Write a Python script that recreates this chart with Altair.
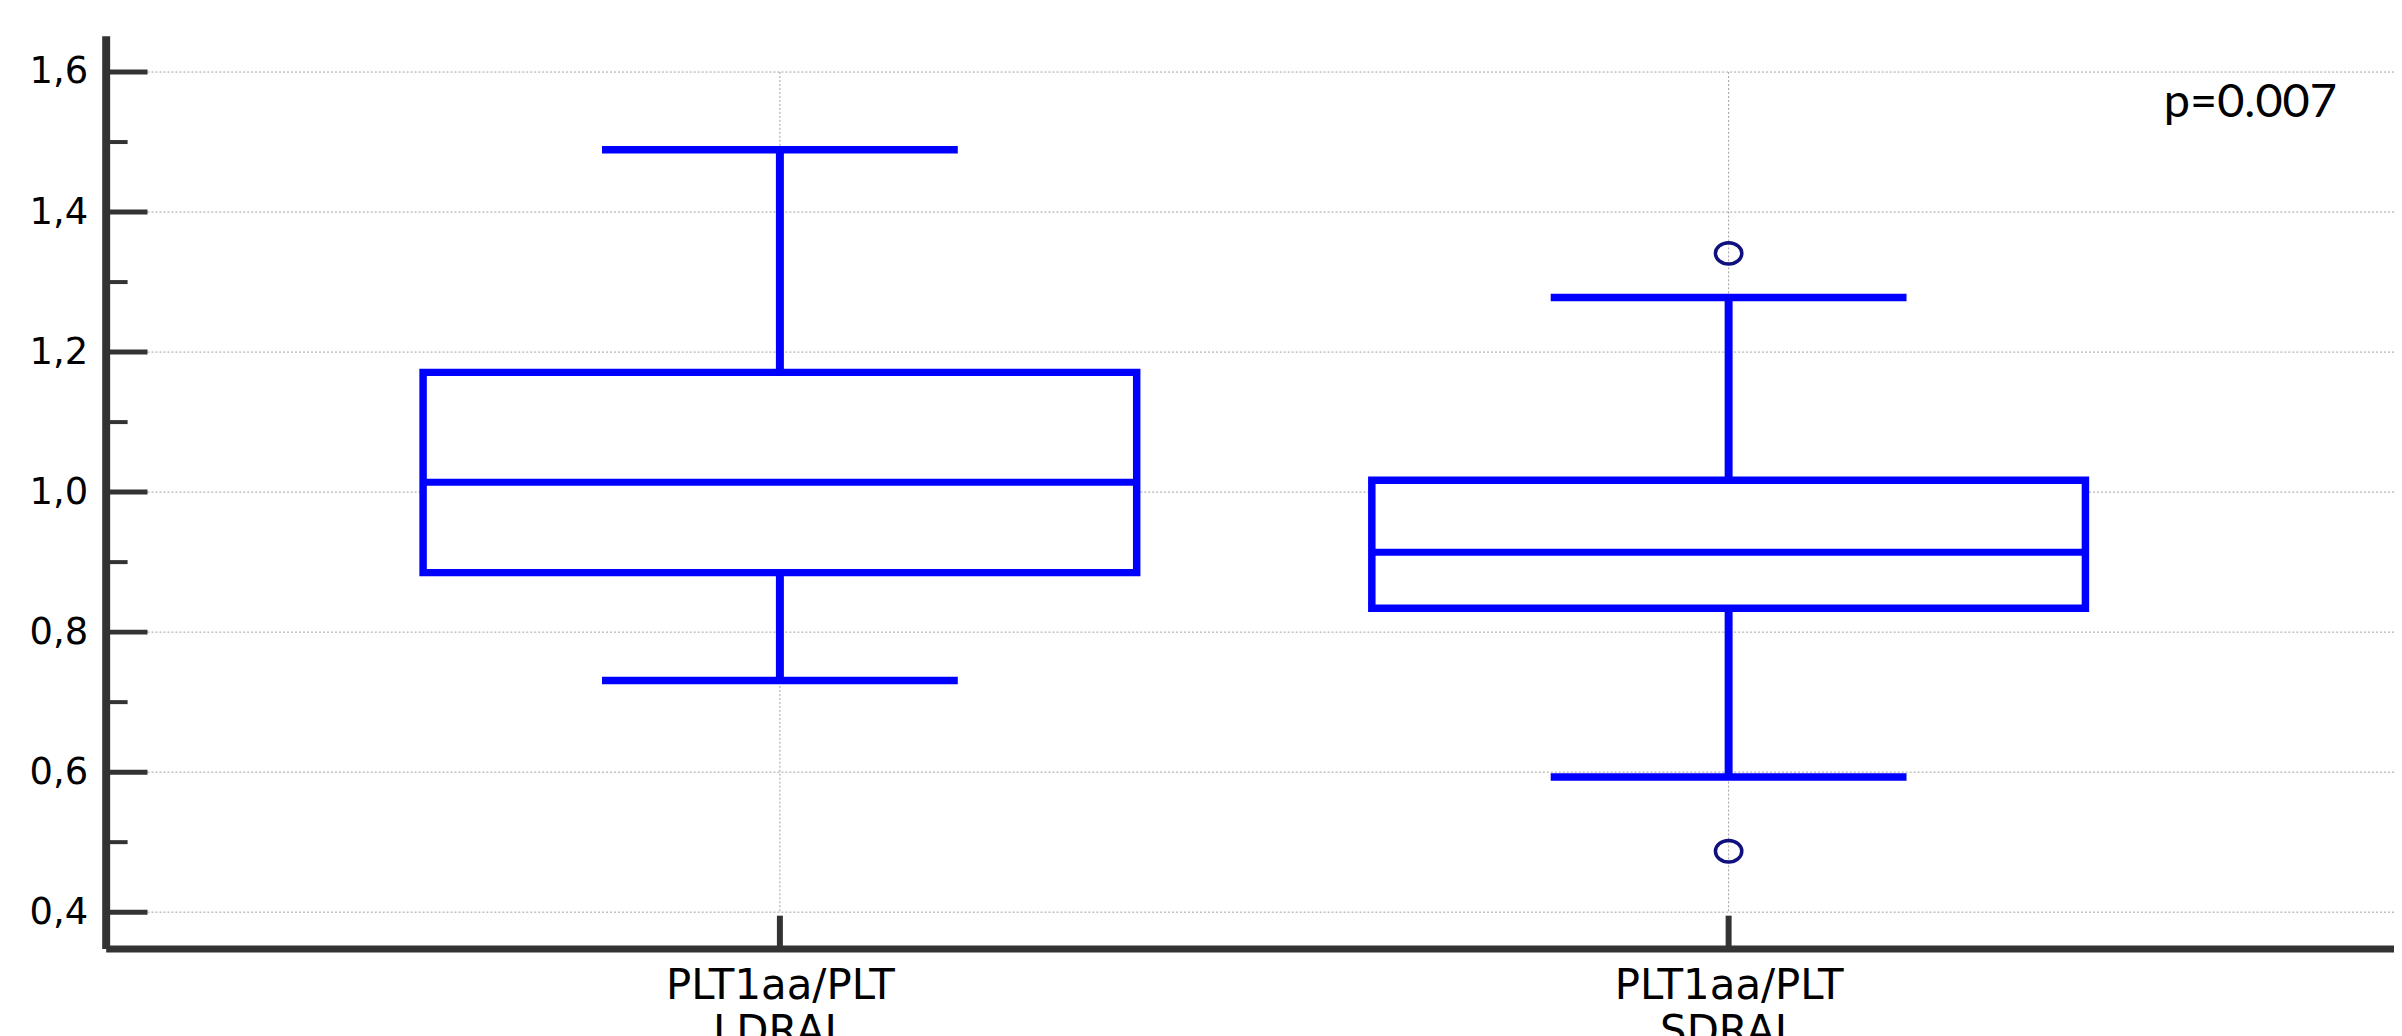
import altair as alt
import pandas as pd

# ---- data ----
categories = ["PLT1aa/PLT LDRAL", "PLT1aa/PLT SDRAL"]
whisker_low = [0.731, 0.593]
q1 = [0.885, 0.834]
median = [1.014, 0.914]
q3 = [1.171, 1.017]
whisker_high = [1.489, 1.278]
outlier_group = ["PLT1aa/PLT SDRAL", "PLT1aa/PLT SDRAL"]
outlier_value = [1.341, 0.487]
y_major = [0.4, 0.6, 0.8, 1.0, 1.2, 1.4, 1.6]
y_minor = [0.5, 0.7, 0.9, 1.1, 1.3, 1.5]
y_domain = [0.348, 1.652]
annotation = ["p=0.007"]

# ---- layout / style ----
W, H = 2296, 916
BLUE = "#0000FF"
AXIS = "#333333"
GRID = "#a0a0a0"
OUT = "#10107f"
ELLIPSE = "M -1 0 A 1 0.81 0 1 1 1 0 A 1 0.81 0 1 1 -1 0 Z"

box_df = pd.DataFrame({"group": categories, "lo": whisker_low, "q1": q1,
                       "med": median, "q3": q3, "hi": whisker_high})
out_df = pd.DataFrame({"group": outlier_group, "v": outlier_value})
major_df = pd.DataFrame({"v": y_major})
minor_df = pd.DataFrame({"v": y_minor})
vgrid_df = pd.DataFrame({"group": categories,
                         "top": [max(y_major)] * len(categories),
                         "bottom": [min(y_major)] * len(categories)})
ann_df = pd.DataFrame({"label": annotation})

xscale = alt.Scale(type="point", domain=categories, padding=0.706, align=0.5033)
yscale = alt.Scale(domain=y_domain, nice=False, zero=False)

x_axis = alt.Axis(title=None, labelExpr="split(datum.label, ' ')", labelAngle=0,
                  labelFont="DejaVu Sans", labelFontSize=42, labelColor="black",
                  labelPadding=17, labelLineHeight=46, labelLimit=2000,
                  ticks=False, tickSize=0, grid=False, domainColor=AXIS,
                  domainWidth=7, domainCap="butt", labelBaseline="top")
y_axis = alt.Axis(title=None, values=y_major,
                  labelExpr="replace(format(datum.value, '.1f'), '.', ',')",
                  labelFont="DejaVu Sans", labelFontSize=37, labelColor="black",
                  labelPadding=18, labelLimit=500, ticks=False, tickSize=0, grid=False,
                  domainColor=AXIS, domainWidth=8, domainCap="butt")


def X():
    return alt.X("group:N", scale=xscale, axis=x_axis, title=None)


def Y(field):
    return alt.Y(field, scale=yscale, axis=y_axis, title=None)


hgrid = alt.Chart(major_df).mark_rule(color=GRID, strokeWidth=1, strokeDash=[2, 2]).encode(
    y=Y("v:Q"), x=alt.value(42), x2=alt.value(W))

vgrid = alt.Chart(vgrid_df).mark_rule(color=GRID, strokeWidth=1, strokeDash=[2, 2]).encode(
    x=X(), y=Y("top:Q"), y2="bottom:Q")

whisk_lo = alt.Chart(box_df).mark_rule(color=BLUE, strokeWidth=8).encode(
    x=X(), y=Y("lo:Q"), y2="q1:Q")
whisk_hi = alt.Chart(box_df).mark_rule(color=BLUE, strokeWidth=8).encode(
    x=X(), y=Y("q3:Q"), y2="hi:Q")

box = alt.Chart(box_df).mark_bar(size=716, fill="white", stroke=BLUE, strokeWidth=7.5,
                                 opacity=1).encode(x=X(), y=Y("q1:Q"), y2="q3:Q")

med = alt.Chart(box_df).mark_tick(size=716, thickness=7, color=BLUE, opacity=1).encode(
    x=X(), y=Y("med:Q"))
cap_lo = alt.Chart(box_df).mark_tick(size=357, thickness=7.5, color=BLUE, opacity=1).encode(
    x=X(), y=Y("lo:Q"))
cap_hi = alt.Chart(box_df).mark_tick(size=357, thickness=7.5, color=BLUE, opacity=1).encode(
    x=X(), y=Y("hi:Q"))

outliers = alt.Chart(out_df).mark_point(shape=ELLIPSE, filled=False, size=700, stroke=OUT,
                                        strokeWidth=3.5, opacity=1).encode(
    x=X(), y=Y("v:Q"))

major_ticks = alt.Chart(major_df).mark_rule(color=AXIS, strokeWidth=5).encode(
    y=Y("v:Q"), x=alt.value(0), x2=alt.value(42))
minor_ticks = alt.Chart(minor_df).mark_rule(color=AXIS, strokeWidth=4).encode(
    y=Y("v:Q"), x=alt.value(0), x2=alt.value(22))
x_ticks = alt.Chart(vgrid_df).mark_rule(color=AXIS, strokeWidth=6).encode(
    x=X(), y=alt.value(H - 33), y2=alt.value(H))

ann = alt.Chart(ann_df).mark_text(font="Lato", fontSize=47, align="left",
                                  baseline="alphabetic", color="black").encode(
    x=alt.value(2065), y=alt.value(82), text="label:N")

chart = alt.layer(
    hgrid, vgrid, whisk_lo, whisk_hi, box, med, cap_lo, cap_hi, outliers,
    major_ticks, minor_ticks, x_ticks, ann
).properties(
    width=W, height=H,
    autosize=alt.AutoSizeParams(type="none"),
    padding={"left": 98, "top": 26, "right": 0, "bottom": 86},
    background="white",
).configure_view(stroke=None)

chart.save("out.html", embed_options={"renderer": "svg", "actions": False})
